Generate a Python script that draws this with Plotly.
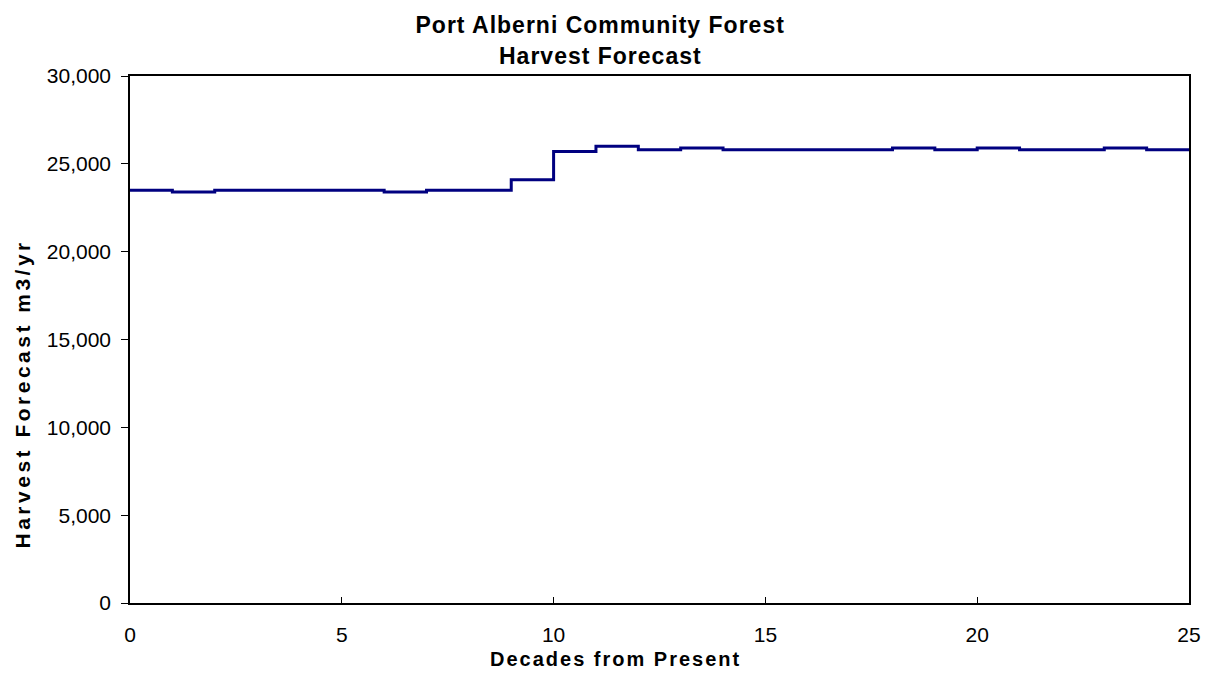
import plotly.graph_objects as go

# Harvest forecast per decade (m3/yr), decade 0 through 24
decades = list(range(0, 26))
harvest = [23500, 23400, 23500, 23500, 23500, 23500, 23400, 23500, 23500, 24100,
           25700, 26000, 25800, 25900, 25800, 25800, 25800, 25800, 25900, 25800,
           25900, 25800, 25800, 25900, 25800]

title_lines = ["Port Alberni Community Forest", "Harvest Forecast"]
x_title = "Decades from Present"
y_title = "Harvest Forecast m3/yr"

# Repeat the final value so the last step extends to decade 25
harvest_steps = harvest + [harvest[-1]]

FONT = "Liberation Sans, Arial, sans-serif"
W, H = 1207, 675
L, R, T, B = 130, 18, 76, 72


def px_to_paper(px, py):
    """Convert page pixel coordinates to paper coordinates of the plot area."""
    pw = W - L - R
    ph = H - T - B
    return (px - L) / pw, (H - B - py) / ph


fig = go.Figure()
fig.add_trace(go.Scatter(
    x=decades,
    y=harvest_steps,
    mode="lines",
    line=dict(color="#000080", width=3, shape="hv"),
    showlegend=False,
))

annotations = []
for text, cy in zip(title_lines, (25, 56)):
    ax, ay = px_to_paper(600, cy)
    annotations.append(dict(
        text=text, x=ax, y=ay, xref="paper", yref="paper",
        xanchor="center", yanchor="middle", showarrow=False,
        font=dict(family=FONT, size=23, color="black", weight="bold"),
    ))

ax, ay = px_to_paper(616, 659)
annotations.append(dict(
    text=x_title, x=ax, y=ay, xref="paper", yref="paper",
    xanchor="center", yanchor="middle", showarrow=False,
    font=dict(family=FONT, size=20, color="black", weight="bold"),
))

ax, ay = px_to_paper(22, 394)
annotations.append(dict(
    text=y_title, x=ax, y=ay, xref="paper", yref="paper",
    xanchor="center", yanchor="middle", showarrow=False, textangle=-90,
    font=dict(family=FONT, size=21, color="black", weight="bold"),
))

fig.update_layout(
    width=W,
    height=H,
    paper_bgcolor="white",
    plot_bgcolor="white",
    margin=dict(l=L, r=R, t=T, b=B, autoexpand=False),
    font=dict(family=FONT, color="black", size=21),
    annotations=annotations,
)

fig.update_xaxes(
    range=[0, 25],
    tickmode="linear", tick0=0, dtick=5,
    ticks="inside", ticklen=6, tickcolor="black",
    showline=True, linecolor="black", linewidth=1.5, mirror=True,
    showgrid=False, zeroline=False, automargin=False,
    tickfont=dict(family=FONT, size=21, color="black"),
    ticklabelstandoff=12,
)
fig.update_yaxes(
    range=[0, 30000],
    tickmode="linear", tick0=0, dtick=5000,
    tickformat=",",
    ticks="outside", ticklen=7, tickcolor="black",
    showline=True, linecolor="black", linewidth=1.5, mirror=True,
    showgrid=False, zeroline=False, automargin=False,
    tickfont=dict(family=FONT, size=21, color="black"),
    ticklabelstandoff=6,
)

# Slightly widen the letter spacing of the bold titles
spacing_js = """
var gd = document.getElementById('{plot_id}');
var spacing = [['Port Alberni Community Forest', 1], ['Harvest Forecast', 1],
               ['Decades from Present', 2], ['Harvest Forecast m3/yr', 3.5]];
gd.querySelectorAll('text.annotation-text').forEach(function (t) {
  spacing.forEach(function (p) {
    if (t.textContent === p[0]) { t.style.letterSpacing = p[1] + 'px'; }
  });
});
"""

fig.write_html("out.html", post_script=spacing_js)
